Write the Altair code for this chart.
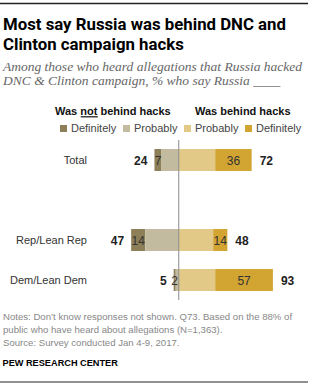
import altair as alt
import pandas as pd

# ---- data ----
groups = ["Total", "Rep/Lean Rep", "Dem/Lean Dem"]
def_not = [7, 14, 2]
prob_not = [17, 33, 3]
prob = [36, 34, 36]
definitely = [36, 14, 57]
not_total = [24, 47, 5]
was_total = [72, 48, 93]

categories = ["Definitely not", "Probably not", "Probably", "Definitely"]
colors = ["#8d7f57", "#c2bba0", "#e3c987", "#d2a532"]
row_order = ["Total", " ", "Rep/Lean Rep", "Dem/Lean Dem"]

title_lines = ["Most say Russia was behind DNC and", "Clinton campaign hacks"]
subtitle_lines = ["Among those who heard allegations that Russia hacked",
                  "DNC & Clinton campaign, % who say Russia ____"]
header_left = "Was not behind hacks"
header_right = "Was behind hacks"
notes_lines = ["Notes: Don\u2019t know responses not shown. Q73.  Based on the 88% of",
               "public who have heard about allegations (N=1,363).",
               "Source: Survey conducted Jan 4-9, 2017."]
credit = "PEW RESEARCH CENTER"

SANS = "Liberation Sans, Arial, sans-serif"

# ---- tables built from the arrays ----
rows = []
for i, g in enumerate(groups):
    n = def_not[i] + prob_not[i]
    rows.append(dict(group=g, cat="Definitely not", start=-n, end=-prob_not[i], value=def_not[i]))
    rows.append(dict(group=g, cat="Probably not", start=-prob_not[i], end=0, value=prob_not[i]))
    rows.append(dict(group=g, cat="Probably", start=0, end=prob[i], value=prob[i]))
    rows.append(dict(group=g, cat="Definitely", start=prob[i], end=prob[i] + definitely[i], value=definitely[i]))
seg = pd.DataFrame(rows)
seg["mid"] = (seg["start"] + seg["end"]) / 2
inner = seg[seg["cat"].isin(["Definitely not", "Definitely"])]

left_tot = pd.DataFrame({"group": groups,
                         "pos": [-(a + b) for a, b in zip(def_not, prob_not)],
                         "label": not_total})
right_tot = pd.DataFrame({"group": groups,
                          "pos": [a + b for a, b in zip(prob, definitely)],
                          "label": was_total})
cats_df = pd.DataFrame({"group": groups})

xs = alt.Scale(domain=[-60, 100], range=[118, 280])
ys = alt.Scale(domain=row_order, range=[140, 300], paddingInner=0, paddingOuter=0)

bars = alt.Chart(seg).mark_bar(size=22).encode(
    x=alt.X("start:Q", scale=xs, axis=None),
    x2="end:Q",
    y=alt.Y("group:N", scale=ys, axis=None),
    color=alt.Color(
        "cat:N",
        scale=alt.Scale(domain=categories, range=colors),
        legend=alt.Legend(
            orient="none", legendX=58, legendY=123, direction="horizontal",
            title=None, symbolType="square", symbolSize=49, symbolStrokeWidth=0,
            labelFont=SANS, labelFontSize=11, labelColor="#444", labelOffset=2,
            columnPadding=4, padding=0, gridAlign="none",
            labelExpr="datum.label == 'Definitely not' ? 'Definitely' : (datum.label == 'Probably not' ? 'Probably' : datum.label)",
        ),
    ),
)

one = pd.DataFrame({"a": [0]})

center = alt.Chart(one).mark_rule(color="#8a8a8a", strokeWidth=1).encode(
    x=alt.datum(0), y=alt.value(140), y2=alt.value(300)
)

inner_txt = alt.Chart(inner).mark_text(font=SANS, fontSize=12, color="#333",
                                       baseline="middle", dy=0.5).encode(
    x="mid:Q", y="group:N", text="value:Q"
)
left_txt = alt.Chart(left_tot).mark_text(font=SANS, fontSize=12, fontWeight="bold",
                                         color="#222", align="right", baseline="middle",
                                         dx=-7, dy=0.5).encode(
    x="pos:Q", y="group:N", text="label:Q"
)
right_txt = alt.Chart(right_tot).mark_text(font=SANS, fontSize=12, fontWeight="bold",
                                           color="#222", align="left", baseline="middle",
                                           dx=8, dy=0.5).encode(
    x="pos:Q", y="group:N", text="label:Q"
)
cat_txt = alt.Chart(cats_df).mark_text(font=SANS, fontSize=11, color="#333",
                                       align="right", baseline="middle", dy=0.5).encode(
    x=alt.value(87), y="group:N", text="group:N"
)


def txt(text, x, y, **kw):
    return alt.Chart(pd.DataFrame({"t": [text]})).mark_text(
        align="left", baseline="alphabetic", lineBreak="\n", **kw
    ).encode(x=alt.value(x), y=alt.value(y), text="t:N")


title = txt("\n".join(title_lines), 3, 29.5,
            font="Roboto, sans-serif", fontSize=16.8,
            fontWeight="bold", color="#000", lineHeight=20)
subtitle = txt("\n".join(subtitle_lines), 3, 70.5,
               font="Liberation Serif, serif", fontSize=13.5, fontStyle="italic",
               color="#666", lineHeight=14.5)
h_left = txt(header_left, 55, 115, font=SANS, fontSize=11, fontWeight="bold", color="#111")
h_right = txt(header_right, 195, 115, font=SANS, fontSize=11, fontWeight="bold", color="#111")
underline = alt.Chart(one).mark_rule(color="#111", strokeWidth=1.2).encode(
    x=alt.value(80.7), x2=alt.value(97.8), y=alt.value(116.8)
)
notes = txt("\n".join(notes_lines), 3, 320, font=SANS, fontSize=9.6, color="#888",
            lineHeight=13)
pew = txt(credit, 2.5, 365.5, font=SANS, fontSize=9.2, fontWeight="bold", color="#000")
top_rule = alt.Chart(one).mark_rule(color="#222", strokeWidth=1.3).encode(
    x=alt.value(0), x2=alt.value(308), y=alt.value(3.5)
)
bottom_rule = alt.Chart(one).mark_rule(color="#222", strokeWidth=1).encode(
    x=alt.value(0), x2=alt.value(308), y=alt.value(382)
)

chart = alt.layer(
    bars, center, inner_txt, left_txt, right_txt, cat_txt,
    title, subtitle, h_left, h_right, underline, notes, pew, top_rule, bottom_rule,
).properties(
    width=310, height=389,
    autosize=alt.AutoSizeParams(type="none"),
    padding=0,
    background="white",
).configure_view(stroke=None)

chart.save("out.html", embed_options={"renderer": "svg", "actions": False})
